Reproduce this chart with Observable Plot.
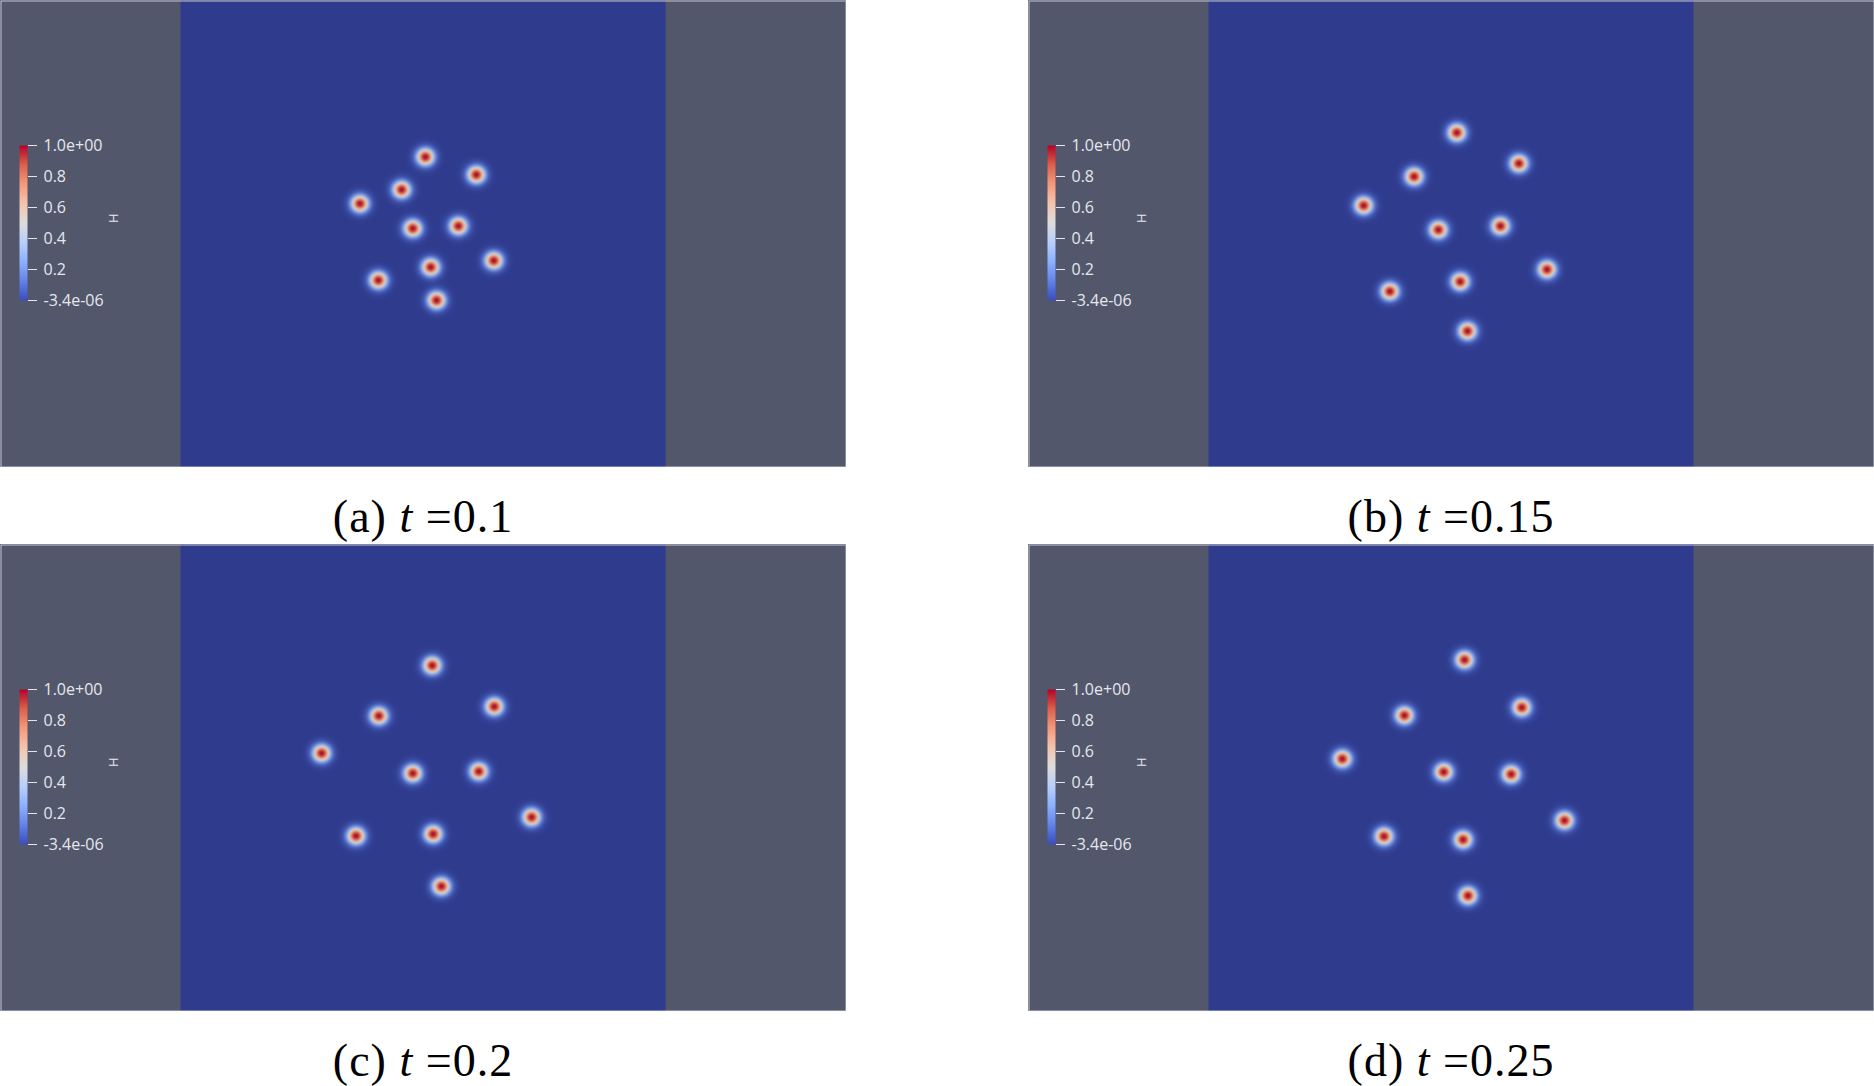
<!DOCTYPE html>
<html><head><meta charset="utf-8">
<script src="https://cdn.jsdelivr.net/npm/d3@7"></script>
<script src="https://cdn.jsdelivr.net/npm/@observablehq/plot@0.6"></script>
<style>
html,body{margin:0;padding:0;background:#fff;}
#root{position:relative;width:1874px;height:1086px;overflow:hidden;background:#fff;}
.panel{position:absolute;}
.panel svg{display:block;}
.cbar{position:absolute;left:0;top:130px;}
.cap{position:absolute;width:600px;text-align:center;font-family:"Liberation Serif","Times New Roman",serif;font-size:46px;line-height:46px;letter-spacing:1px;color:#000;white-space:nowrap;}
</style></head><body><div id="root"></div>
<script>
// ---- data ----
const panelLabels = ["(a)", "(b)", "(c)", "(d)"];
const panelTimes = ["0.1", "0.15", "0.2", "0.25"];
// blob centres (domain units, x and y in [0,1])
const xA = [0.505, 0.610, 0.456, 0.370, 0.479, 0.573, 0.646, 0.516, 0.408, 0.528];
const yA = [0.665, 0.627, 0.595, 0.565, 0.512, 0.517, 0.443, 0.429, 0.401, 0.358];
const xB = [0.512, 0.640, 0.424, 0.320, 0.474, 0.602, 0.698, 0.519, 0.374, 0.534];
const yB = [0.717, 0.651, 0.623, 0.561, 0.509, 0.517, 0.424, 0.398, 0.377, 0.292];
const xC = [0.519, 0.647, 0.409, 0.291, 0.479, 0.615, 0.724, 0.521, 0.362, 0.538];
const yC = [0.741, 0.653, 0.633, 0.553, 0.510, 0.514, 0.416, 0.380, 0.376, 0.268];
const xD = [0.528, 0.646, 0.404, 0.276, 0.485, 0.624, 0.734, 0.525, 0.362, 0.535];
const yD = [0.753, 0.651, 0.634, 0.541, 0.513, 0.508, 0.409, 0.368, 0.375, 0.248];
const blobPeak = 1.0;
const blobSigma = 0.0128;
// colour bar
const cbTicks = [-3.4e-6, 0.2, 0.4, 0.6, 0.8, 1.0];
const cbLabels = ["-3.4e-06", "0.2", "0.4", "0.6", "0.8", "1.0e+00"];
const cbTitle = "H";
const coolWarm = ["#3b4cc0", "#6282ea", "#8db0fe", "#b8d0f9", "#dddddd", "#f5c4ad", "#f49a7b", "#dd604d", "#b40426"];
// lit (shaded) version of the same map used on the surface
const fieldStops = [0, 0.125, 0.25, 0.375, 0.5, 0.625, 0.75, 0.875, 1];
const fieldColors = ["#2f3b8d", "#465fba", "#718cd6", "#9fb2e0", "#c8cad6", "#e4bba4", "#e29072", "#cb5646", "#a80e2c"];

const blobX = [xA, xB, xC, xD];
const blobY = [yA, yB, yC, yD];

// ---- layout ----
const root = document.getElementById("root");
const offsets = [[0, 0], [1028, 0], [0, 544], [1028, 544]];
const PW = 846, PH = 467;

function field(x, y, xs, ys) {
  let v = 0;
  const s2 = 2 * blobSigma * blobSigma;
  for (let i = 0; i < xs.length; ++i) {
    const dx = x - xs[i], dy = y - ys[i];
    const r2 = dx * dx + dy * dy;
    if (r2 < 40 * blobSigma * blobSigma) v += blobPeak * Math.exp(-r2 / s2);
  }
  return Math.min(1, v);
}

for (let p = 0; p < 4; ++p) {
  const [ox, oy] = offsets[p];
  const xs = blobX[p], ys = blobY[p];
  const wrap = document.createElement("div");
  wrap.className = "panel";
  wrap.style.left = ox + "px";
  wrap.style.top = oy + "px";
  wrap.style.width = PW + "px";
  wrap.style.height = PH + "px";

  const main = Plot.plot({
    width: PW, height: PH, margin: 0,
    x: {domain: [0, 1], range: [180, 665], axis: null},
    y: {domain: [0, 1], range: [PH, 0], axis: null},
    color: {type: "linear", domain: fieldStops, range: fieldColors, clamp: true},
    style: {background: "#52576c"},
    marks: [
      Plot.raster({x1: 0, x2: 1, y1: 0, y2: 1, width: 485, height: 467, fill: (x, y) => field(x, y, xs, ys)}),
      Plot.frame({stroke: "#c3c5d0", inset: 0.5})
    ]
  });
  wrap.appendChild(main);

  const cb = Plot.plot({
    width: 140, height: 190, marginLeft: 19, marginRight: 113, marginTop: 15, marginBottom: 20,
    x: {domain: [0, 1], axis: null},
    y: {domain: [cbTicks[0], cbTicks[cbTicks.length - 1]]},
    color: {type: "linear", domain: coolWarm.map((c, i) => i / (coolWarm.length - 1)), range: coolWarm, clamp: true},
    style: {background: "transparent", color: "#e6e7ec", fontFamily: "'Open Sans', 'Liberation Sans', sans-serif"},
    marks: [
      Plot.raster({x1: 0, x2: 1, y1: cbTicks[0], y2: cbTicks[cbTicks.length - 1], width: 1, height: 155, fill: (x, y) => y}),
      Plot.axisY(cbTicks, {anchor: "right", tickSize: 9, tickPadding: 7, fontSize: 16, label: null,
        tickFormat: d => cbLabels[cbTicks.indexOf(d)]}),
      Plot.text([cbTitle], {text: d => d, frameAnchor: "right", dx: 86, rotate: 90, fontSize: 13, fill: "#e6e7ec"})
    ]
  });
  const cbw = document.createElement("div");
  cbw.className = "cbar";
  cbw.appendChild(cb);
  wrap.appendChild(cbw);
  root.appendChild(wrap);

  const cap = document.createElement("div");
  cap.className = "cap";
  cap.style.left = (ox + PW / 2 - 300) + "px";
  cap.style.top = (oy + 494) + "px";
  cap.innerHTML = `${panelLabels[p]} <i>t</i> =${panelTimes[p]}`;
  root.appendChild(cap);
}
</script></body></html>
